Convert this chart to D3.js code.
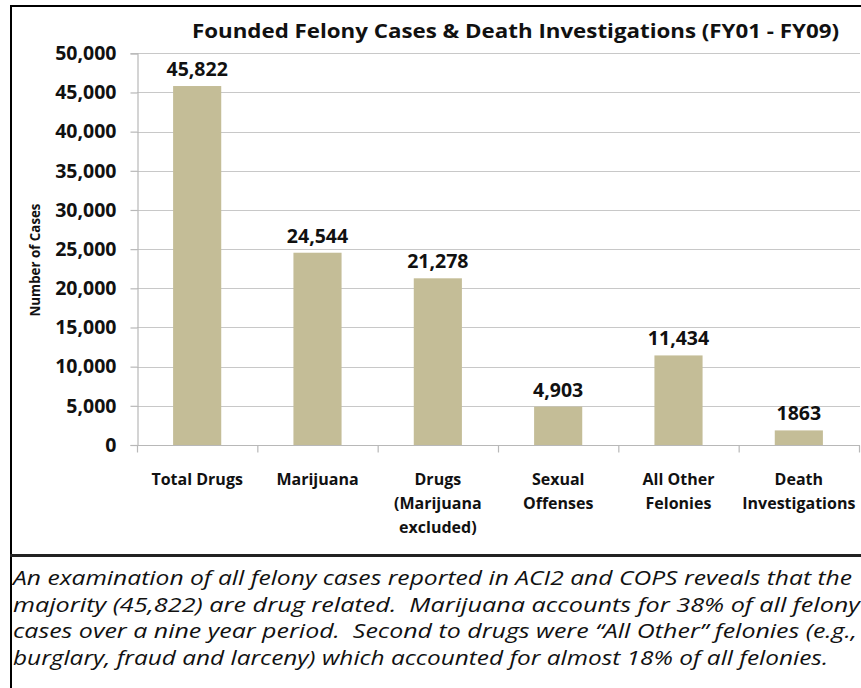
<!DOCTYPE html>
<html>
<head>
<meta charset="utf-8">
<script src="https://cdn.jsdelivr.net/npm/d3@7"></script>
<style>
  body { margin: 0; background: #fff; }
  svg { display: block; font-family: "Open Sans", sans-serif; }
</style>
</head>
<body>
<script>
// chart data
var categories = [
  ["Total Drugs"],
  ["Marijuana"],
  ["Drugs", "(Marijuana", "excluded)"],
  ["Sexual", "Offenses"],
  ["All Other", "Felonies"],
  ["Death", "Investigations"]
]
var values = [45822, 24544, 21278, 4903, 11434, 1863]
var valueLabels = ["45,822", "24,544", "21,278", "4,903", "11,434", "1863"]
var yTicks = [0, 5000, 10000, 15000, 20000, 25000, 30000, 35000, 40000, 45000, 50000]
var title = "Founded Felony Cases & Death Investigations (FY01 - FY09)"
var yTitle = "Number of Cases"
var note = [
  "An examination of all felony cases reported in ACI2 and COPS reveals that the",
  "majority (45,822) are drug related.  Marijuana accounts for 38% of all felony",
  "cases over a nine year period.  Second to drugs were \u201cAll Other\u201d felonies (e.g.,",
  "burglary, fraud and larceny) which accounted for almost 18% of all felonies."
]
var noteWidths = [839, 847, 844, 815]

var W = 861, H = 688
var svg = d3.select("body").append("svg")
  .attr("width", W).attr("height", H)

// plot area
var plotLeft = 137, plotRight = 859, plotTop = 53.3, plotBottom = 445

var xScale = d3.scaleBand()
  .domain(d3.range(values.length))
  .range([plotLeft, plotRight])
  .paddingInner(0.6)
  .paddingOuter(0.3)

var yScale = d3.scaleLinear()
  .domain([0, 50000])
  .range([plotBottom, plotTop])

// gridlines
svg.append("g").selectAll("line")
  .data(yTicks.slice(1))
  .enter().append("line")
  .attr("x1", plotLeft).attr("x2", plotRight + 1)
  .attr("y1", function(d) { return Math.round(yScale(d)) + 0.5 })
  .attr("y2", function(d) { return Math.round(yScale(d)) + 0.5 })
  .attr("stroke", "#c8c8c8").attr("stroke-width", 1.2)

// bars
svg.append("g").selectAll("rect")
  .data(values)
  .enter().append("rect")
  .attr("x", function(d, i) { return xScale(i) })
  .attr("width", xScale.bandwidth())
  .attr("y", function(d) { return yScale(d) })
  .attr("height", function(d) { return yScale(0) - yScale(d) })
  .attr("fill", "#c4bd97")

// y axis
var yAxis = svg.append("g")
  .attr("transform", "translate(" + (plotLeft + 0.5) + ",0)")
  .call(d3.axisLeft(yScale).tickValues(yTicks).tickSize(7).tickPadding(14)
    .tickFormat(d3.format(",")))
yAxis.select(".domain").attr("stroke", "#b8b8b8").attr("stroke-width", 1.2)
yAxis.selectAll(".tick line").attr("stroke", "#b8b8b8").attr("stroke-width", 1.2)
yAxis.selectAll(".tick text")
  .attr("fill", "#111").attr("font-size", 19.5).attr("font-weight", "bold")
  .attr("font-family", "'Open Sans', sans-serif")

// x axis (category ticks at band edges)
var xEdge = d3.scaleLinear().domain([0, values.length]).range([plotLeft, plotRight])
var xAxis = svg.append("g")
  .attr("transform", "translate(0," + (Math.round(plotBottom) + 0.5) + ")")
xAxis.append("line")
  .attr("x1", plotLeft).attr("x2", plotRight + 1)
  .attr("stroke", "#b8b8b8").attr("stroke-width", 1.2)
xAxis.selectAll(".edge")
  .data(d3.range(values.length + 1))
  .enter().append("line")
  .attr("x1", function(d) { return xEdge(d) + 0.5 })
  .attr("x2", function(d) { return xEdge(d) + 0.5 })
  .attr("y1", 0).attr("y2", 7)
  .attr("stroke", "#b8b8b8").attr("stroke-width", 1.2)

// category labels
var catG = svg.append("g").selectAll("text")
  .data(categories)
  .enter().append("text")
  .attr("text-anchor", "middle")
  .attr("font-size", 16).attr("font-weight", "bold").attr("fill", "#111")
catG.selectAll("tspan")
  .data(function(d, i) { return d.map(function(s) { return {s: s, i: i} }) })
  .enter().append("tspan")
  .attr("x", function(d) { return xScale(d.i) + xScale.bandwidth() / 2 })
  .attr("y", function(d, j) { return 485 + j * 24 })
  .text(function(d) { return d.s })

// value labels
svg.append("g").selectAll("text")
  .data(values)
  .enter().append("text")
  .attr("x", function(d, i) { return xScale(i) + xScale.bandwidth() / 2 })
  .attr("y", function(d) { return yScale(d) - 10 })
  .attr("text-anchor", "middle")
  .attr("font-size", 19.5).attr("font-weight", "bold").attr("fill", "#111")
  .text(function(d, i) { return valueLabels[i] })

// title
svg.append("text")
  .attr("x", 515.5).attr("y", 38)
  .attr("text-anchor", "middle")
  .attr("font-size", 20).attr("font-weight", "bold").attr("fill", "#111")
  .attr("textLength", 647).attr("lengthAdjust", "spacingAndGlyphs")
  .text(title)

// y title
svg.append("text")
  .attr("transform", "translate(40,260) rotate(-90)")
  .attr("text-anchor", "middle")
  .attr("font-size", 15).attr("font-weight", "bold").attr("fill", "#111")
  .attr("textLength", 113).attr("lengthAdjust", "spacingAndGlyphs")
  .text(yTitle)

// borders
svg.append("line").attr("x1", 10).attr("x2", W).attr("y1", 6).attr("y2", 6)
  .attr("stroke", "#000").attr("stroke-width", 2)
svg.append("line").attr("x1", 11).attr("x2", 11).attr("y1", 5).attr("y2", H)
  .attr("stroke", "#000").attr("stroke-width", 2)
svg.append("line").attr("x1", 10).attr("x2", W).attr("y1", 555.5).attr("y2", 555.5)
  .attr("stroke", "#222").attr("stroke-width", 3)

// note text
svg.append("g").selectAll("text")
  .data(note)
  .enter().append("text")
  .attr("x", 13)
  .attr("y", function(d, i) { return 585 + i * 26.5 })
  .attr("font-size", 20).attr("font-style", "italic").attr("fill", "#111")
  .attr("textLength", function(d, i) { return noteWidths[i] })
  .attr("lengthAdjust", "spacingAndGlyphs")
  .style("white-space", "pre")
  .text(function(d) { return d })
</script>
</body>
</html>
